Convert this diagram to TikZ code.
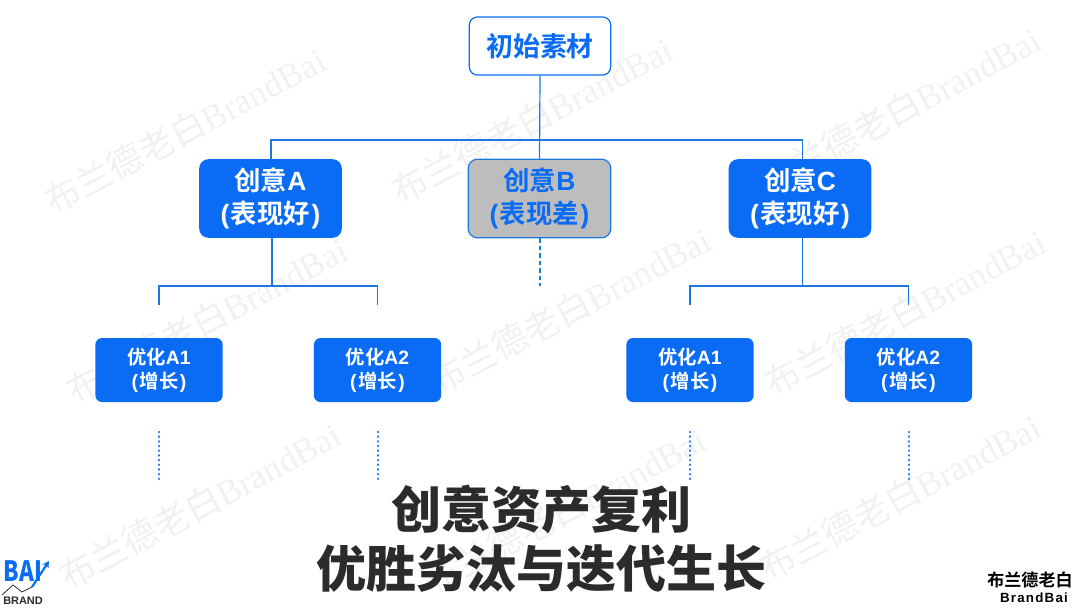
\documentclass[tikz,border=0pt]{standalone}
\usepackage{fontspec}
\usetikzlibrary{arrows.meta}
\setmainfont{Liberation Sans}
\newfontfamily\cjk{Noto Sans CJK SC}
\newfontfamily\cjkb{Noto Sans CJK SC Bold}
\newfontfamily\cjkh{Noto Sans CJK SC Black}
\newfontfamily\latb{Liberation Sans Bold}
\newfontfamily\wmlat{Liberation Serif}
\newcommand{\lb}[1]{{\latb #1}}
\newcommand{\pl}{{\latb (}\kern1.2pt}
\newcommand{\pr}{\kern1.2pt{\latb )}}
\definecolor{bblue}{HTML}{0A6CF5}
\definecolor{lineblue}{HTML}{1F78E0}
\definecolor{wm}{HTML}{F1F1F1}
\definecolor{greyfill}{HTML}{BDBDBD}
\definecolor{titlec}{HTML}{2B2B2B}
\tikzset{
  x=0.75pt,y=-0.75pt,
  wmark/.style={text=wm,rotate=28,font=\cjk\fontsize{26.5}{26.5}\selectfont,inner sep=0pt},
  topbox/.style={draw=bblue,line width=0.9pt,fill=white,rounded corners=6pt,minimum width=106pt,minimum height=43.5pt,inner sep=0pt,text=bblue,font=\cjkb\fontsize{20.2}{24}\selectfont,align=center},
  midbox/.style={fill=bblue,rounded corners=7pt,minimum width=107pt,minimum height=59pt,inner sep=0pt,text=white,font=\cjkb\fontsize{19.8}{25}\selectfont,align=center},
  greybox/.style={midbox,fill=greyfill,draw=lineblue,line width=0.9pt,text=bblue},
  lowbox/.style={fill=bblue,rounded corners=5pt,minimum width=95.5pt,minimum height=48pt,inner sep=0pt,text=white,font=\cjkb\fontsize{14.5}{18.5}\selectfont,align=center},
  conn/.style={draw=lineblue,line width=0.9pt},
  dashconn/.style={draw=lineblue,line width=1.5pt,dash pattern=on 3.4pt off 2.2pt},
  dotconn/.style={draw=bblue,line width=2.2pt,line cap=round,dash pattern=on 0.01pt off 3.5pt},
  titletext/.style={text=titlec,font=\cjkh\fontsize{37.5}{48}\selectfont,align=center,inner sep=0pt},
  logotext/.style={inner sep=0pt}
}
\begin{document}
\begin{tikzpicture}
\useasboundingbox (0,0) rectangle (1080,608);
% watermarks
\foreach \i/\px/\py in {w1/185/130,w2/532/120,w3/900/110,w4/207/320,w5/570/310,w6/905/312,w7/200/505,w8/565/510,w9/900/497}{
  \node[wmark] (\i) at (\px,\py) {布兰德老白{\wmlat BrandBai}};
}
% nodes
\node[topbox] (root) at (540,46) {\raisebox{-0.5pt}{初始素材}};
\node[midbox] (A) at (270.5,198.5) {\raisebox{-1.5pt}{创意\lb{A}}\\\raisebox{-1.5pt}{\pl 表现好\pr}};
\node[greybox] (B) at (539.5,198.5) {\raisebox{-1.5pt}{创意\lb{B}}\\\raisebox{-1.5pt}{\pl 表现差\pr}};
\node[midbox] (C) at (800,198.5) {\raisebox{-1.5pt}{创意\lb{C}}\\\raisebox{-1.5pt}{\pl 表现好\pr}};
\node[lowbox] (A1) at (159,370) {\raisebox{-1.2pt}{优化\lb{A1}}\\\raisebox{-0.8pt}{\pl 增长\pr}};
\node[lowbox] (A2) at (377.5,370) {\raisebox{-1.2pt}{优化\lb{A2}}\\\raisebox{-0.8pt}{\pl 增长\pr}};
\node[lowbox] (C1) at (690,370) {\raisebox{-1.2pt}{优化\lb{A1}}\\\raisebox{-0.8pt}{\pl 增长\pr}};
\node[lowbox] (C2) at (908.5,370) {\raisebox{-1.2pt}{优化\lb{A2}}\\\raisebox{-0.8pt}{\pl 增长\pr}};
% free ends
\coordinate (bus) at (540,140);
\coordinate (Ajoin) at (272,286);
\coordinate (Cjoin) at (802.5,286);
\coordinate (Bend) at (539.5,286);
\coordinate (A1t) at (159,305);
\coordinate (A2t) at (377.5,305);
\coordinate (C1t) at (690,305);
\coordinate (C2t) at (908.5,305);
\coordinate (Atop) at (271,159);
\coordinate (Ctop) at (802.5,159);
\coordinate (Abot) at (272,238);
\coordinate (Cbot) at (802.5,238);
% connectors
\draw[conn] (root.south) -- (B.north);
\draw[conn] (Atop) |- (bus);
\draw[conn] (Ctop) |- (bus);
\draw[conn] (Abot) -- (Ajoin);
\draw[conn] (A1t) |- (Ajoin) -| (A2t);
\draw[conn] (Cbot) -- (Cjoin);
\draw[conn] (C1t) |- (Cjoin) -| (C2t);
\draw[dashconn] (B.south) -- (Bend);
% dots
\coordinate (a1a) at (159,432); \coordinate (a1b) at (159,480);
\coordinate (a2a) at (378,432); \coordinate (a2b) at (378,480);
\coordinate (c1a) at (690,432); \coordinate (c1b) at (690,480);
\coordinate (c2a) at (909,432); \coordinate (c2b) at (909,480);
\draw[dotconn] (a1a) -- (a1b);
\draw[dotconn] (a2a) -- (a2b);
\draw[dotconn] (c1a) -- (c1b);
\draw[dotconn] (c2a) -- (c2b);
% title
\node[titletext] (t1) at (541,510) {创意资产复利};
\node[titletext] (t2) at (541,569) {优胜劣汰与迭代生长};
% logo left
\node[logotext,text=bblue,xscale=0.8,font=\cjkh\fontsize{21}{21}\selectfont] (logoB) at (23,571) {BAI};
\coordinate (lk1) at (2,595); \coordinate (lk2) at (13,585); \coordinate (lk3) at (22,592); \coordinate (lk4) at (32,587);
\coordinate (lk5) at (49,561);
\draw[titlec,line width=0.6pt] (lk1) -- (lk2) -- (lk3) -- (lk4);
\draw[bblue,line width=1.6pt,-{Stealth[length=5pt,width=5.5pt]}] (lk4) -- (lk5);
\node[logotext,text=titlec,font=\latb\fontsize{8.2}{8}\selectfont] (logoT) at (23,601) {BRAND};
% logo right
\node[logotext,text=black,font=\cjkb\fontsize{12.8}{13}\selectfont] (r1) at (1030,580) {布兰德老白};
\node[logotext,text=black,font=\latb\fontsize{10}{11}\selectfont\addfontfeature{LetterSpace=9}] (r2) at (1034,598) {BrandBai};
\end{tikzpicture}
\end{document}
